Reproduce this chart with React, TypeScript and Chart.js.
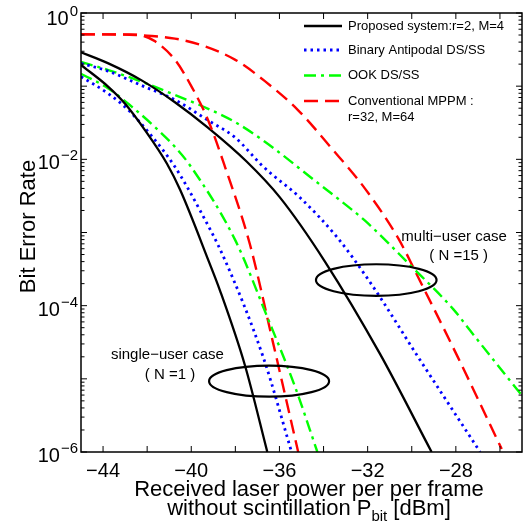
import React, { useEffect, useRef } from 'react';
import { Chart, registerables } from 'chart.js';

Chart.register(...registerables);

// ---- axis ticks ----
const xTickValues = [-44, -42, -40, -38, -36, -34, -32, -30, -28, -26];
const xTickLabels = [-44, -40, -36, -32, -28];
const yDecades = [0, -1, -2, -3, -4, -5, -6];
const yLabelExponents = [0, -2, -4, -6];

// ---- single-user case (N = 1) ----
const xProposedN1 = [-45, -43.76, -43.0, -42.1, -41.1, -40.5, -39.2, -38.7, -37.56, -36.55];
const berProposedN1 = [1.95e-1, 9.8e-2, 5.75e-2, 2.51e-2, 8.7e-3, 3.8e-3, 4.0e-4, 1.62e-4, 1.51e-5, 1.0e-6];

const xAntipodalN1 = [-45, -43.76, -42.85, -41.8, -40.74, -39.6, -38.5, -36.73, -35.45];
const berAntipodalN1 = [1.35e-1, 7.9e-2, 4.7e-2, 2.09e-2, 7.9e-3, 2.0e-3, 4.4e-4, 1.95e-5, 1.0e-6];

const xOokN1 = [-45, -43.76, -42.7, -41.64, -40.74, -40.06, -38.0, -36.6, -35.3, -34.28];
const berOokN1 = [1.48e-1, 9.3e-2, 5.25e-2, 2.75e-2, 1.48e-2, 8.3e-3, 7.8e-4, 7.6e-5, 7.9e-6, 1.0e-6];

const xMppmN1 = [-45, -42.8, -42.2, -41.64, -40.74, -39.98, -39.23, -38.47, -37.34, -36.3, -35.15];
const berMppmN1 = [5.1e-1, 5.1e-1, 4.9e-1, 4.1e-1, 2.3e-1, 9.8e-2, 3.4e-2, 7.9e-3, 6.9e-4, 3.2e-5, 1.0e-6];

// ---- multi-user case (N = 15) ----
const xProposedN15 = [-45, -43.76, -42.25, -40.74, -39.23, -37.49, -35.98, -33.93, -31.44, -29.1];
const berProposedN15 = [2.9e-1, 2.05e-1, 1.2e-1, 6.03e-2, 2.69e-2, 9.33e-3, 3.02e-3, 3.98e-4, 2.19e-5, 1.0e-6];

const xAntipodalN15 = [-45, -43.76, -42.25, -40.74, -39.23, -38.02, -36.73, -35.07, -33.4, -31.89, -29.63, -26.9];
const berAntipodalN15 = [2.05e-1, 1.6e-1, 1.02e-1, 6.5e-2, 3.4e-2, 2.0e-2, 7.9e-3, 3.0e-3, 8.7e-4, 2.09e-4, 1.82e-5, 1.0e-6];

const xOokN15 = [-45, -43.76, -42.25, -40.74, -39.23, -38.02, -36.66, -34.39, -33.25, -32.12, -30.08, -28.11, -27.36, -25.0];
const berOokN15 = [2.14e-1, 1.66e-1, 1.15e-1, 7.6e-2, 4.9e-2, 3.24e-2, 1.74e-2, 5.1e-3, 2.75e-3, 1.45e-3, 3.6e-4, 8.9e-5, 4.6e-5, 5.9e-6];

const xMppmN15 = [-45, -42.5, -42.0, -40.74, -39.53, -38.0, -36.66, -35.15, -33.63, -32.12, -30.61, -29.63, -27.9, -25.92];
const berMppmN15 = [5.13e-1, 5.0e-1, 4.9e-1, 4.47e-1, 3.63e-1, 2.29e-1, 1.17e-1, 4.68e-2, 1.41e-2, 3.98e-3, 8.3e-4, 2.19e-4, 1.95e-5, 1.1e-6];

// ---- legend ----
const legendLabels = ['Proposed system:r=2, M=4', 'Binary Antipodal DS/SS', 'OOK DS/SS', 'Conventional MPPM :'];
const legendExtraLine = 'r=32, M=64';

// ---- annotations (data coordinates) ----
const ellipseCentersX = [-36.47, -31.61];
const ellipseCentersY = [9.3e-6, 2.24e-4];
const annotationTexts = ['single\u2212user case', '( N =1 )', 'multi\u2212user case', '( N =15 )'];
const annotationX = [-41.08, -40.96, -28.08, -27.87];
const annotationY = [2.13e-5, 1.14e-5, 8.8e-4, 4.84e-4];

const FONT = '"Liberation Sans", Arial, Helvetica, sans-serif';
const COLORS = ['#000000', '#0000ff', '#00ff00', '#ff0000'];
const DASHES: number[][] = [[], [2.5, 4], [12, 5, 3, 5], [14, 7]];
const WIDTHS = [2.3, 2.8, 2.4, 2.4];

function mk(label: string, xs: number[], ys: number[], k: number) {
  return {
    label,
    data: xs.map((v, i) => ({ x: v, y: ys[i] })),
    borderColor: COLORS[k],
    backgroundColor: COLORS[k],
    borderDash: DASHES[k],
    borderWidth: WIDTHS[k],
    borderCapStyle: 'butt',
    pointRadius: 0,
    showLine: true,
    fill: false,
    cubicInterpolationMode: 'monotone',
  };
}

const decorPlugin = {
  id: 'decor',
  afterDatasetsDraw(chart: any) {
    const { ctx, chartArea: a } = chart;
    const xs = chart.scales.x;
    const ys = chart.scales.y;
    ctx.save();
    ctx.strokeStyle = '#000';
    ctx.fillStyle = '#000';

    // ellipses
    ctx.lineWidth = 2.2;
    const rx = [60, 60.3];
    const ry = [15.5, 15.8];
    for (let i = 0; i < ellipseCentersX.length; i++) {
      ctx.beginPath();
      ctx.ellipse(xs.getPixelForValue(ellipseCentersX[i]), ys.getPixelForValue(ellipseCentersY[i]), rx[i], ry[i], 0, 0, Math.PI * 2);
      ctx.stroke();
    }

    // annotation texts
    ctx.font = `15px ${FONT}`;
    ctx.textAlign = 'center';
    ctx.textBaseline = 'middle';
    for (let i = 0; i < annotationTexts.length; i++) {
      ctx.fillText(annotationTexts[i], xs.getPixelForValue(annotationX[i]), ys.getPixelForValue(annotationY[i]));
    }

    // box
    ctx.lineWidth = 1.5;
    ctx.strokeRect(a.left, a.top, a.right - a.left, a.bottom - a.top);

    // ticks
    ctx.lineWidth = 1;
    const seg = (x1: number, y1: number, x2: number, y2: number) => {
      ctx.beginPath();
      ctx.moveTo(x1, y1);
      ctx.lineTo(x2, y2);
      ctx.stroke();
    };
    for (const v of xTickValues) {
      const px = xs.getPixelForValue(v);
      seg(px, a.bottom, px, a.bottom - 6);
      seg(px, a.top, px, a.top + 6);
    }
    for (const e of yDecades) {
      const py = ys.getPixelForValue(Math.pow(10, e));
      seg(a.left, py, a.left + 6, py);
      seg(a.right, py, a.right - 6, py);
      if (e < 0) {
        for (let m = 2; m <= 9; m++) {
          const pm = ys.getPixelForValue(m * Math.pow(10, e));
          seg(a.left, pm, a.left + 3.5, pm);
          seg(a.right, pm, a.right - 3.5, pm);
        }
      }
    }

    // x tick labels
    ctx.font = `20px ${FONT}`;
    ctx.textAlign = 'center';
    ctx.textBaseline = 'alphabetic';
    for (const v of xTickLabels) {
      ctx.fillText('\u2212' + Math.abs(v), xs.getPixelForValue(v), a.bottom + 25);
    }

    // y tick labels 10^e
    for (const e of yLabelExponents) {
      const py = ys.getPixelForValue(Math.pow(10, e));
      const shift = e === 0 ? 12 : 10;
      const expText = e === 0 ? '0' : '\u2212' + Math.abs(e);
      ctx.font = `15px ${FONT}`;
      ctx.textAlign = 'right';
      const ew = ctx.measureText(expText).width;
      ctx.fillText(expText, 78, py + shift - 9);
      ctx.font = `20px ${FONT}`;
      ctx.fillText('10', 78 - ew - 1, py + shift);
    }

    // axis titles
    ctx.font = `22px ${FONT}`;
    ctx.textAlign = 'center';
    ctx.fillText('Received laser power per per frame', 309, 496);
    const p1 = 'without scintillation P';
    const p3 = ' [dBm]';
    const sub = 'bit';
    const w1 = ctx.measureText(p1).width;
    const w3 = ctx.measureText(p3).width;
    ctx.font = `15px ${FONT}`;
    const ws = ctx.measureText(sub).width;
    const start = 309 - (w1 + ws + w3) / 2;
    ctx.textAlign = 'left';
    ctx.font = `22px ${FONT}`;
    ctx.fillText(p1, start, 515);
    ctx.fillText(p3, start + w1 + ws, 515);
    ctx.font = `15px ${FONT}`;
    ctx.fillText(sub, start + w1, 521);

    ctx.save();
    ctx.translate(35, 226.5);
    ctx.rotate(-Math.PI / 2);
    ctx.font = `22px ${FONT}`;
    ctx.textAlign = 'center';
    ctx.fillText('Bit Error Rate', 0, 0);
    ctx.restore();

    // legend
    const rowsY = [26, 50, 75.5, 101];
    ctx.font = `13px ${FONT}`;
    ctx.textAlign = 'left';
    ctx.textBaseline = 'middle';
    for (let k = 0; k < 4; k++) {
      ctx.strokeStyle = COLORS[k];
      ctx.lineWidth = WIDTHS[k];
      ctx.setLineDash(DASHES[k]);
      ctx.lineCap = 'butt';
      seg(304, rowsY[k], 342, rowsY[k]);
      ctx.setLineDash([]);
      ctx.fillStyle = '#000';
      ctx.fillText(legendLabels[k], 348, rowsY[k]);
    }
    ctx.fillText(legendExtraLine, 348, 117);
    ctx.restore();
  },
};

export default function App() {
  const ref = useRef<HTMLCanvasElement>(null);
  useEffect(() => {
    const datasets: any[] = [
      mk('Proposed system:r=2, M=4 (N=1)', xProposedN1, berProposedN1, 0),
      mk('Binary Antipodal DS/SS (N=1)', xAntipodalN1, berAntipodalN1, 1),
      mk('OOK DS/SS (N=1)', xOokN1, berOokN1, 2),
      mk('Conventional MPPM (N=1)', xMppmN1, berMppmN1, 3),
      mk('Proposed system:r=2, M=4 (N=15)', xProposedN15, berProposedN15, 0),
      mk('Binary Antipodal DS/SS (N=15)', xAntipodalN15, berAntipodalN15, 1),
      mk('OOK DS/SS (N=15)', xOokN15, berOokN15, 2),
      mk('Conventional MPPM (N=15)', xMppmN15, berMppmN15, 3),
    ];
    const chart = new Chart(ref.current as HTMLCanvasElement, {
      type: 'scatter',
      data: { datasets },
      options: {
        responsive: false,
        animation: false,
        devicePixelRatio: 1,
        layout: { padding: { left: 81, top: 13, right: 8, bottom: 78 } },
        plugins: { legend: { display: false }, tooltip: { enabled: false } },
        scales: {
          x: { type: 'linear', min: -45, max: -25, display: false },
          y: { type: 'logarithmic', min: 1e-6, max: 1, display: false },
        },
      } as any,
      plugins: [decorPlugin],
    });
    return () => chart.destroy();
  }, []);
  return (
    <canvas
      ref={ref}
      width={530}
      height={530}
      style={{ position: 'fixed', left: 0, top: 0, width: 530, height: 530, background: '#fff' }}
    />
  );
}
